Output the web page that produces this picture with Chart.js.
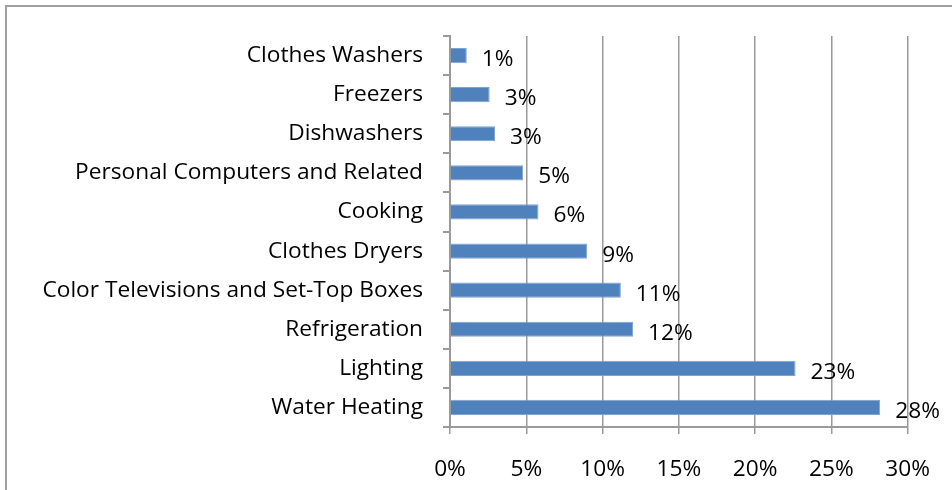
<!DOCTYPE html>
<html>
<head>
<meta charset="utf-8">
<script src="https://cdn.jsdelivr.net/npm/chart.js@4"></script>
<style>
  html, body { margin: 0; padding: 0; background: #fff; }
  #wrap { width: 952px; height: 490px; position: relative; }
</style>
</head>
<body>
<div id="wrap"><canvas id="chart"></canvas></div>
<script>
// categories, top to bottom
const categories = [
  "Clothes Washers",
  "Freezers",
  "Dishwashers",
  "Personal Computers and Related",
  "Cooking",
  "Clothes Dryers",
  "Color Televisions and Set-Top Boxes",
  "Refrigeration",
  "Lighting",
  "Water Heating"
];
// share of energy use, percent
const shares = [1.1, 2.6, 2.95, 4.8, 5.8, 9.0, 11.2, 12.0, 22.65, 28.2];
const xTicks = [0, 5, 10, 15, 20, 25, 30];

const FONT = "'Open Sans'";
const FSIZE = 22.7;
const GRID = "#9a9a9a";

// value labels to the right of each bar
const barLabels = {
  id: "barLabels",
  afterDatasetsDraw(chart) {
    const ctx = chart.ctx;
    const meta = chart.getDatasetMeta(0);
    ctx.save();
    ctx.font = FSIZE + "px " + FONT;
    ctx.fillStyle = "#000";
    ctx.textAlign = "left";
    ctx.textBaseline = "middle";
    meta.data.forEach((bar, i) => {
      ctx.fillText(Math.round(shares[i]) + "%", bar.x + 15, bar.y + 4);
    });
    ctx.restore();
  }
};

// outer frame (top and left edge)
const frame = {
  id: "frame",
  beforeDraw(chart) {
    const ctx = chart.ctx;
    ctx.save();
    ctx.strokeStyle = "#a0a0a0";
    ctx.lineWidth = 2;
    ctx.beginPath();
    ctx.moveTo(6, 490);
    ctx.lineTo(6, 6);
    ctx.lineTo(952, 6);
    ctx.stroke();
    ctx.restore();
  }
};

new Chart(document.getElementById("chart"), {
  type: "bar",
  data: {
    labels: categories,
    datasets: [{
      data: shares,
      backgroundColor: "#4f81bd",
      borderColor: "#7fa3d0",
      borderWidth: 1,
      barPercentage: 0.78,
      categoryPercentage: 0.5
    }]
  },
  options: {
    indexAxis: "y",
    responsive: true,
    maintainAspectRatio: false,
    animation: false,
    layout: { padding: { top: 36, right: 39, left: 0, bottom: 0 } },
    plugins: { legend: { display: false }, tooltip: { enabled: false } },
    scales: {
      x: {
        min: 0,
        max: 30,
        afterBuildTicks: (s) => { s.ticks = xTicks.map(v => ({ value: v })); },
        afterFit: (s) => { s.height = 63; },
        grid: { color: GRID, lineWidth: 1.5, tickLength: 7, drawTicks: true },
        border: { color: GRID, width: 2 },
        ticks: {
          callback: (v) => v + "%",
          font: { family: FONT, size: FSIZE },
          color: "#000",
          padding: 22,
          maxRotation: 0
        }
      },
      y: {
        afterFit: (s) => { s.width = 450; },
        grid: { drawOnChartArea: false, color: GRID, lineWidth: 2, tickLength: 7 },
        border: { color: GRID, width: 2 },
        ticks: {
          font: { family: FONT, size: FSIZE },
          color: "#000",
          padding: 20,
          autoSkip: false
        }
      }
    }
  },
  plugins: [frame, barLabels]
});
</script>
</body>
</html>
